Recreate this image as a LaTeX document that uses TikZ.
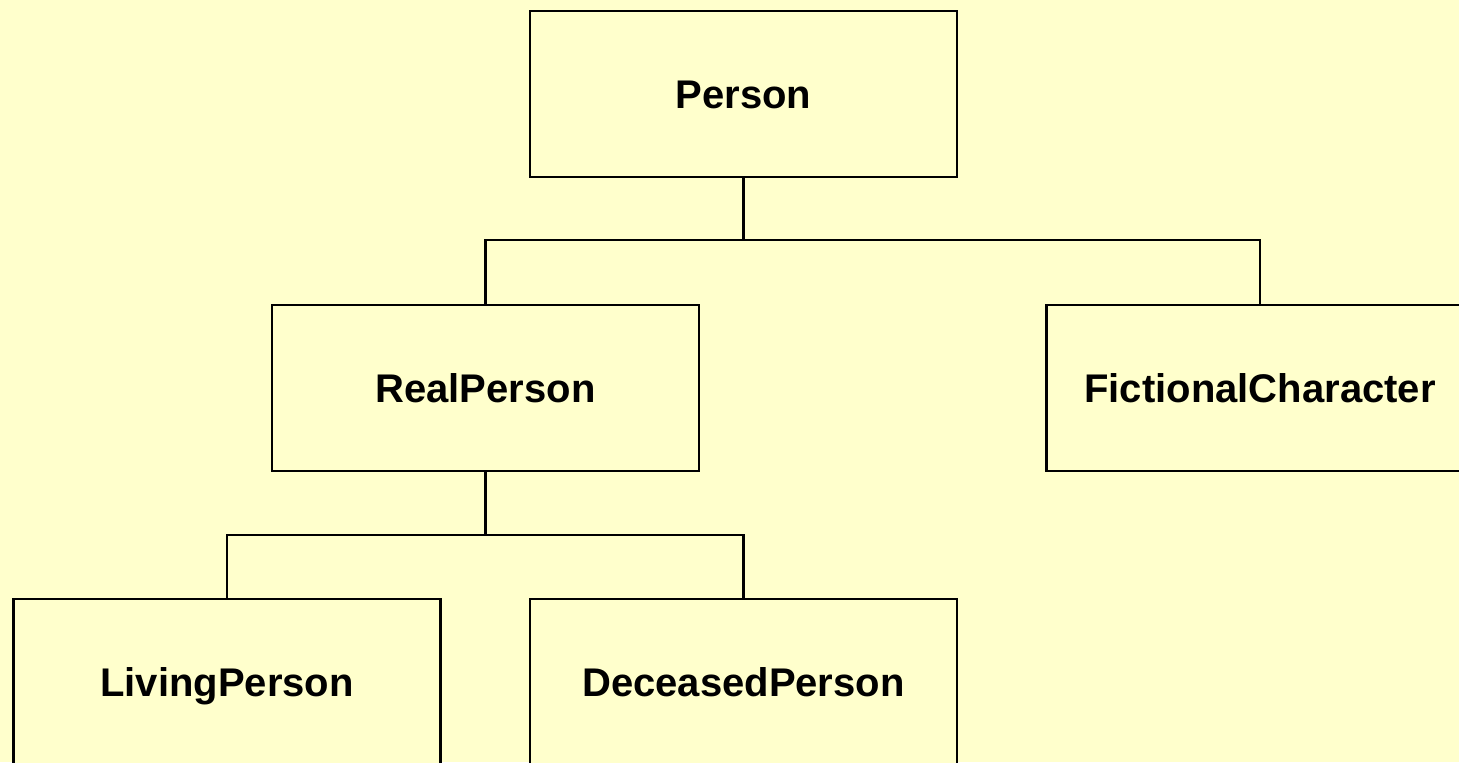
\documentclass[tikz,border=0pt]{standalone}
\usepackage{fontspec}
\setmainfont{Liberation Sans}
\definecolor{bgyellow}{HTML}{FFFFCC}
\tikzset{
	classbox/.style={draw=black, line width=1.1pt, fill=bgyellow, minimum width=213.5pt, minimum height=83pt, font=\fontsize{20}{24}\selectfont\bfseries, inner sep=0pt, text height=14.3pt, text depth=0pt},
	link/.style={draw=black, line width=1.1pt}
}
\begin{document}
\begin{tikzpicture}[x=0.5pt, y=-0.5pt]
		\useasboundingbox (0,0) rectangle (1459,762);
		\fill[bgyellow] (0,0) rectangle (1459,762);
		\clip (0,0) rectangle (1459,762);
		% boxes
		\node[classbox] (person) at (743.5,94) {Person};
		\node[classbox] (real) at (485.5,388) {RealPerson};
		\node[classbox] (fict) at (1260,388) {FictionalCharacter};
		\node[classbox] (living) at (227,682) {LivingPerson};
		\node[classbox] (deceased) at (743.5,682) {DeceasedPerson};
		% connectors
		\coordinate (bus1) at (743.5,240);
		\coordinate (bus2) at (485.5,535);
		\draw[link] (person.south) -- (bus1);
		\draw[link] (real.north) |- (bus1) -| (fict.north);
		\draw[link] (real.south) -- (bus2);
		\draw[link] (living.north) |- (bus2) -| (deceased.north);
	\end{tikzpicture}
\end{document}
